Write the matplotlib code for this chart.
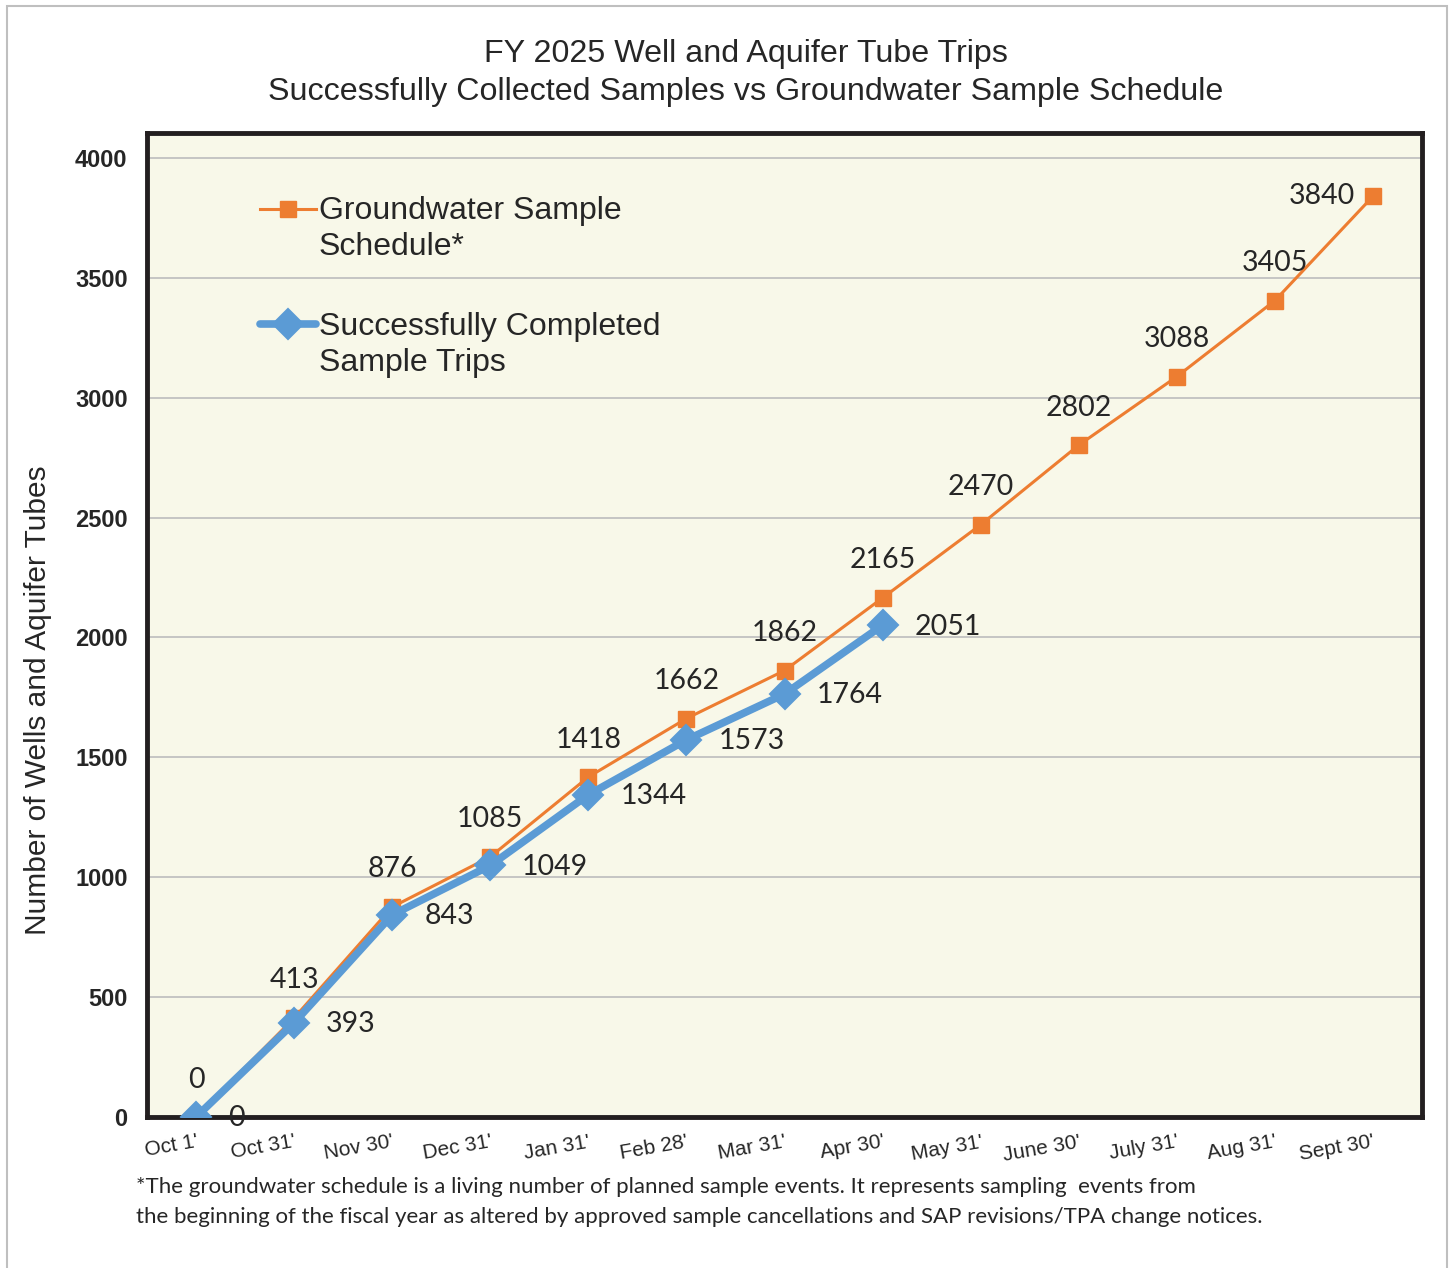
import matplotlib.pyplot as plt
from matplotlib.patches import Rectangle
from matplotlib.legend_handler import HandlerLine2D
from matplotlib.transforms import Affine2D

# chart data
dates = ["Oct 1'", "Oct 31'", "Nov 30'", "Dec 31'", "Jan 31'", "Feb 28'", "Mar 31'",
         "Apr 30'", "May 31'", "June 30'", "July 31'", "Aug 31'", "Sept 30'"]
schedule = [0, 413, 876, 1085, 1418, 1662, 1862, 2165, 2470, 2802, 3088, 3405, 3840]
completed = [0, 393, 843, 1049, 1344, 1573, 1764, 2051]

orange = "#ED7D31"
blue = "#5B9BD5"
dark = "#262626"


class FirstLineHandler(HandlerLine2D):
    # put the legend handle level with the first line of a two-line label
    def create_artists(self, legend, orig_handle, xdescent, ydescent, width, height,
                       fontsize, trans):
        shift = 0.66 * fontsize * legend.figure.dpi / 72
        trans = trans + Affine2D().translate(0, shift)
        return super().create_artists(legend, orig_handle, xdescent, ydescent, width,
                                      height, fontsize, trans)


fig = plt.figure(figsize=(14.53, 12.68), dpi=100)
ax = fig.add_axes([147 / 1453, 1 - 1117 / 1268, 1275 / 1453, 984 / 1268])
ax.set_facecolor("#F8F8E9")

# outer gray frame
fig.patches.append(Rectangle((7 / 1453, -0.01), 1440 / 1453, 1 - 6 / 1268 + 0.01,
                             transform=fig.transFigure, fill=False,
                             edgecolor="#BFBFBF", linewidth=1.5))

x = list(range(len(dates)))
l1, = ax.plot(x, schedule, color=orange, lw=2.2, marker="s", ms=11, mec=orange,
              label="Groundwater Sample\nSchedule*", zorder=3)
l2, = ax.plot(x[:len(completed)], completed, color=blue, lw=5.5, marker="D", ms=15,
              mec=blue, mew=1.5, label="Successfully Completed\nSample Trips",
              solid_capstyle="round", zorder=4)

# data labels
lab_font = dict(family="Lato", fontsize=20.5, color=dark)
for i, v in enumerate(schedule):
    if i == len(schedule) - 1:
        ax.annotate(str(v), (i, v), xytext=(-13, 0), textcoords="offset points",
                    ha="right", va="center", **lab_font)
    else:
        ax.annotate(str(v), (i, v), xytext=(0, 27), textcoords="offset points",
                    ha="center", va="center", **lab_font)
for i, v in enumerate(completed):
    ax.annotate(str(v), (i, v), xytext=(23, -1), textcoords="offset points",
                ha="left", va="center", zorder=6, **lab_font)

ax.set_xlim(-0.5, 12.5)
ax.set_ylim(0, 4104)
ax.set_yticks(range(0, 4001, 500))
ax.yaxis.grid(True, color="#BDBDBD", lw=1.2)
ax.set_axisbelow(True)

ax.set_xticks(x)
ax.set_xticklabels(dates, rotation=10, ha="right", rotation_mode="anchor",
                   family="Liberation Sans", fontsize=15, color=dark)
ax.tick_params(axis="x", length=0, pad=11)
ax.tick_params(axis="y", length=0, pad=14)
for t in ax.get_yticklabels():
    t.set_fontfamily("Liberation Sans")
    t.set_fontweight("bold")
    t.set_fontsize(17)
    t.set_color(dark)

for s in ax.spines.values():
    s.set_linewidth(3.5)
    s.set_color("#231F20")

leg = ax.legend(handles=[l1, l2], loc="upper left", bbox_to_anchor=(0.066, 0.965),
                frameon=False, prop=dict(family="Liberation Sans", size=23),
                labelcolor=dark, handlelength=1.75, handletextpad=0.1,
                labelspacing=1.55,
                handler_map={l1: FirstLineHandler(), l2: FirstLineHandler()})
for t in leg.get_texts():
    t.set_linespacing(1.27)

fig.text(746 / 1453, 1 - 54 / 1268, "FY 2025 Well and Aquifer Tube Trips",
         ha="center", va="center", family="Liberation Sans", fontsize=23.2, color=dark)
fig.text(746 / 1453, 1 - 92 / 1268,
         "Successfully Collected Samples vs Groundwater Sample Schedule",
         ha="center", va="center", family="Liberation Sans", fontsize=23.2, color=dark)
fig.text(38 / 1453, 1 - 700 / 1268, "Number of Wells and Aquifer Tubes", rotation=90,
         ha="center", va="center", family="Liberation Sans", fontsize=21.5, color=dark)

note = ("*The groundwater schedule is a living number of planned sample events. It represents sampling  events from\n"
        "the beginning of the fiscal year as altered by approved sample cancellations and SAP revisions/TPA change notices.")
fig.text(136 / 1453, 1 - 1202 / 1268, note, ha="left", va="center", family="Lato",
         fontsize=16, color=dark, linespacing=1.6)

fig.savefig("out.png", dpi=100)
